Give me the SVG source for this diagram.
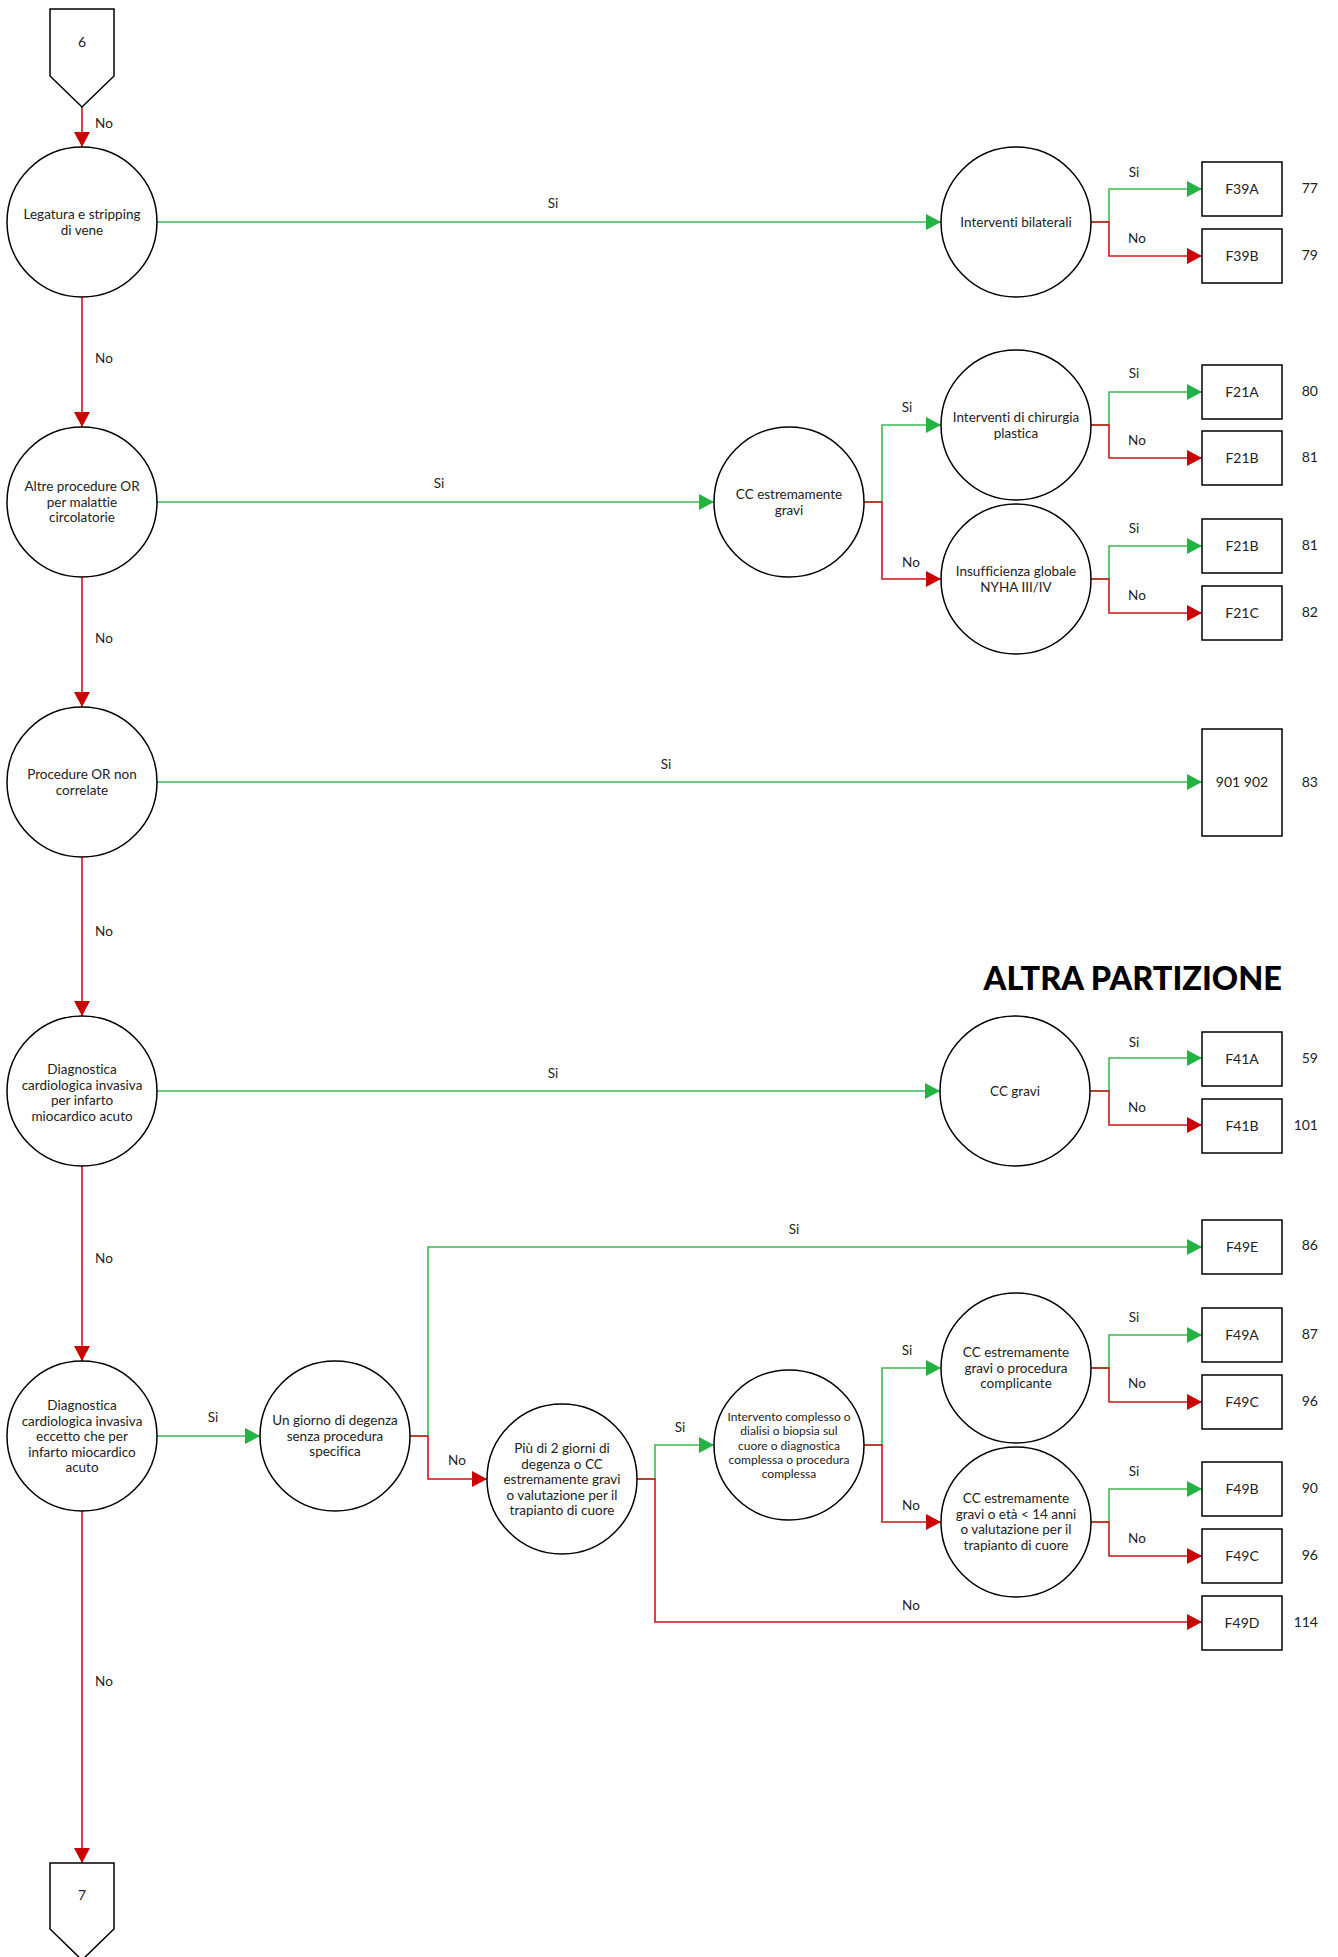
<svg xmlns="http://www.w3.org/2000/svg" width="1338" height="1957" viewBox="0 0 1338 1957">
<style>
text{font-variant-ligatures:none}
.n{fill:#fff;stroke:#000;stroke-width:1.5}
.t{font-family:Lato,"Liberation Sans",sans-serif;font-size:13.5px;fill:#222;text-anchor:middle}
.s{font-size:12px}
.b{font-family:Lato,"Liberation Sans",sans-serif;font-size:14px;fill:#222;text-anchor:middle}
.num{font-family:Lato,"Liberation Sans",sans-serif;font-size:14px;fill:#222;text-anchor:end}
.l{font-family:Lato,"Liberation Sans",sans-serif;font-size:13.5px;fill:#222;text-anchor:middle}
.g{fill:none;stroke:#3dbb4f;stroke-width:1.6;marker-end:url(#ag)}
.r{fill:none;stroke:#d01515;stroke-width:1.6;marker-end:url(#ar)}
.title{font-family:Lato,"Liberation Sans",sans-serif;font-size:32.5px;font-weight:900;fill:#000;text-anchor:end}
</style>
<defs>
<marker id="ag" markerUnits="userSpaceOnUse" markerWidth="16" markerHeight="18" refX="15" refY="8" orient="auto"><path d="M0,0 L15,8 L0,16 z" fill="#22b443"/></marker>
<marker id="ar" markerUnits="userSpaceOnUse" markerWidth="16" markerHeight="18" refX="15" refY="8" orient="auto"><path d="M0,0 L15,8 L0,16 z" fill="#cc0000"/></marker>
</defs>
<rect width="1338" height="1957" fill="#fff"/>

<g id="connectors">
<path class="r" d="M82,107 V147"/>
<path class="r" d="M82,297 V427"/>
<path class="r" d="M82,577 V707"/>
<path class="r" d="M82,857 V1016"/>
<path class="r" d="M82,1166 V1361"/>
<path class="r" d="M82,1511 V1863"/>
<path class="g" d="M157,222 H941"/>
<path class="g" d="M157,502 H714"/>
<path class="g" d="M157,782 H1202"/>
<path class="g" d="M157,1091 H940"/>
<path class="g" d="M157,1436 H260"/>
<path class="g" d="M1091,222 H1109 V189 H1202"/>
<path class="r" d="M1091,222 H1109 V256 H1202"/>
<path class="g" d="M864,502 H882 V425 H941"/>
<path class="r" d="M864,502 H882 V579 H941"/>
<path class="g" d="M1091,425 H1109 V392 H1202"/>
<path class="r" d="M1091,425 H1109 V458 H1202"/>
<path class="g" d="M1091,579 H1109 V546 H1202"/>
<path class="r" d="M1091,579 H1109 V613 H1202"/>
<path class="g" d="M1090,1091 H1109 V1058 H1202"/>
<path class="r" d="M1090,1091 H1109 V1125 H1202"/>
<path class="g" d="M410,1436 H428 V1247 H1202"/>
<path class="r" d="M410,1436 H428 V1479 H487"/>
<path class="g" d="M637,1479 H655 V1445 H714"/>
<path class="r" d="M637,1479 H655 V1622 H1202"/>
<path class="g" d="M864,1445 H882 V1368 H941"/>
<path class="r" d="M864,1445 H882 V1522 H941"/>
<path class="g" d="M1091,1368 H1109 V1335 H1202"/>
<path class="r" d="M1091,1368 H1109 V1402 H1202"/>
<path class="g" d="M1091,1522 H1109 V1489 H1202"/>
<path class="r" d="M1091,1522 H1109 V1556 H1202"/>
</g>

<g id="labels">
<text class="l" x="104" y="128">No</text>
<text class="l" x="104" y="363">No</text>
<text class="l" x="104" y="643">No</text>
<text class="l" x="104" y="936">No</text>
<text class="l" x="104" y="1263">No</text>
<text class="l" x="104" y="1686">No</text>
<text class="l" x="553" y="208">Si</text>
<text class="l" x="439" y="488">Si</text>
<text class="l" x="666" y="769">Si</text>
<text class="l" x="553" y="1078">Si</text>
<text class="l" x="213" y="1422">Si</text>
<text class="l" x="794" y="1234">Si</text>
<text class="l" x="457" y="1465">No</text>
<text class="l" x="680" y="1432">Si</text>
<text class="l" x="911" y="1610">No</text>
<text class="l" x="1134" y="177">Si</text>
<text class="l" x="1137" y="243">No</text>
<text class="l" x="907" y="412">Si</text>
<text class="l" x="911" y="567">No</text>
<text class="l" x="1134" y="378">Si</text>
<text class="l" x="1137" y="445">No</text>
<text class="l" x="1134" y="533">Si</text>
<text class="l" x="1137" y="600">No</text>
<text class="l" x="1134" y="1047">Si</text>
<text class="l" x="1137" y="1112">No</text>
<text class="l" x="907" y="1355">Si</text>
<text class="l" x="911" y="1510">No</text>
<text class="l" x="1134" y="1322">Si</text>
<text class="l" x="1137" y="1388">No</text>
<text class="l" x="1134" y="1476">Si</text>
<text class="l" x="1137" y="1543">No</text>
</g>

<g id="p6"><path class="n" d="M50,9 H114 V76 L82,107 L50,76 Z"/><text class="b" x="82" y="47">6</text></g>
<g id="p7"><path class="n" d="M50,1863 H114 V1929 L82,1960 L50,1929 Z"/><text class="b" x="82" y="1900">7</text></g>

<g id="c1"><circle class="n" cx="82" cy="222" r="75"/><text class="t" x="82" y="219">Legatura e stripping</text><text class="t" x="82" y="235">di vene</text></g>
<g id="c2"><circle class="n" cx="82" cy="502" r="75"/><text class="t" x="82" y="491">Altre procedure OR</text><text class="t" x="82" y="507">per malattie</text><text class="t" x="82" y="522">circolatorie</text></g>
<g id="c3"><circle class="n" cx="82" cy="782" r="75"/><text class="t" x="82" y="779">Procedure OR non</text><text class="t" x="82" y="795">correlate</text></g>
<g id="c4"><circle class="n" cx="82" cy="1091" r="75"/><text class="t" x="82" y="1074">Diagnostica</text><text class="t" x="82" y="1090">cardiologica invasiva</text><text class="t" x="82" y="1105">per infarto</text><text class="t" x="82" y="1121">miocardico acuto</text></g>
<g id="c5"><circle class="n" cx="82" cy="1436" r="75"/><text class="t" x="82" y="1410">Diagnostica</text><text class="t" x="82" y="1426">cardiologica invasiva</text><text class="t" x="82" y="1441">eccetto che per</text><text class="t" x="82" y="1457">infarto miocardico</text><text class="t" x="82" y="1472">acuto</text></g>

<g id="d1"><circle class="n" cx="1016" cy="222" r="75"/><text class="t" x="1016" y="227">Interventi bilaterali</text></g>
<g id="d2"><circle class="n" cx="789" cy="502" r="75"/><text class="t" x="789" y="499">CC estremamente</text><text class="t" x="789" y="515">gravi</text></g>
<g id="d3"><circle class="n" cx="1016" cy="425" r="75"/><text class="t" x="1016" y="422">Interventi di chirurgia</text><text class="t" x="1016" y="438">plastica</text></g>
<g id="d4"><circle class="n" cx="1016" cy="579" r="75"/><text class="t" x="1016" y="576">Insufficienza globale</text><text class="t" x="1016" y="592">NYHA III/IV</text></g>
<g id="d5"><circle class="n" cx="1015" cy="1091" r="75"/><text class="t" x="1015" y="1096">CC gravi</text></g>
<g id="d6"><circle class="n" cx="335" cy="1436" r="75"/><text class="t" x="335" y="1425">Un giorno di degenza</text><text class="t" x="335" y="1441">senza procedura</text><text class="t" x="335" y="1456">specifica</text></g>
<g id="d7"><circle class="n" cx="562" cy="1479" r="75"/><text class="t" x="562" y="1453">Più di 2 giorni di</text><text class="t" x="562" y="1469">degenza o CC</text><text class="t" x="562" y="1484">estremamente gravi</text><text class="t" x="562" y="1500">o valutazione per il</text><text class="t" x="562" y="1515">trapianto di cuore</text></g>
<g id="d8"><circle class="n" cx="789" cy="1445" r="75"/><text class="t s" x="789" y="1421">Intervento complesso o</text><text class="t s" x="789" y="1435">dialisi o biopsia sul</text><text class="t s" x="789" y="1450">cuore o diagnostica</text><text class="t s" x="789" y="1464">complessa o procedura</text><text class="t s" x="789" y="1478">complessa</text></g>
<g id="d9"><circle class="n" cx="1016" cy="1368" r="75"/><text class="t" x="1016" y="1357">CC estremamente</text><text class="t" x="1016" y="1373">gravi o procedura</text><text class="t" x="1016" y="1388">complicante</text></g>
<g id="d10"><circle class="n" cx="1016" cy="1522" r="75"/><text class="t" x="1016" y="1503">CC estremamente</text><text class="t" x="1016" y="1519">gravi o età &lt; 14 anni</text><text class="t" x="1016" y="1534">o valutazione per il</text><text class="t" x="1016" y="1550">trapianto di cuore</text></g>

<g id="F39A"><rect class="n" x="1202" y="162" width="80" height="54"/><text class="b" x="1242" y="194">F39A</text><text class="num" x="1318" y="193">77</text></g>
<g id="F39B"><rect class="n" x="1202" y="229" width="80" height="54"/><text class="b" x="1242" y="261">F39B</text><text class="num" x="1318" y="260">79</text></g>
<g id="F21A"><rect class="n" x="1202" y="365" width="80" height="54"/><text class="b" x="1242" y="397">F21A</text><text class="num" x="1318" y="396">80</text></g>
<g id="F21B1"><rect class="n" x="1202" y="431" width="80" height="54"/><text class="b" x="1242" y="463">F21B</text><text class="num" x="1318" y="462">81</text></g>
<g id="F21B2"><rect class="n" x="1202" y="519" width="80" height="54"/><text class="b" x="1242" y="551">F21B</text><text class="num" x="1318" y="550">81</text></g>
<g id="F21C"><rect class="n" x="1202" y="586" width="80" height="54"/><text class="b" x="1242" y="618">F21C</text><text class="num" x="1318" y="617">82</text></g>
<g id="B901"><rect class="n" x="1202" y="729" width="80" height="107"/><text class="b" x="1242" y="787">901 902</text><text class="num" x="1318" y="787">83</text></g>
<g id="F41A"><rect class="n" x="1202" y="1032" width="80" height="54"/><text class="b" x="1242" y="1064">F41A</text><text class="num" x="1318" y="1063">59</text></g>
<g id="F41B"><rect class="n" x="1202" y="1099" width="80" height="54"/><text class="b" x="1242" y="1131">F41B</text><text class="num" x="1318" y="1130">101</text></g>
<g id="F49E"><rect class="n" x="1202" y="1220" width="80" height="54"/><text class="b" x="1242" y="1252">F49E</text><text class="num" x="1318" y="1250">86</text></g>
<g id="F49A"><rect class="n" x="1202" y="1308" width="80" height="54"/><text class="b" x="1242" y="1340">F49A</text><text class="num" x="1318" y="1339">87</text></g>
<g id="F49C1"><rect class="n" x="1202" y="1375" width="80" height="54"/><text class="b" x="1242" y="1407">F49C</text><text class="num" x="1318" y="1406">96</text></g>
<g id="F49B"><rect class="n" x="1202" y="1462" width="80" height="54"/><text class="b" x="1242" y="1494">F49B</text><text class="num" x="1318" y="1493">90</text></g>
<g id="F49C2"><rect class="n" x="1202" y="1529" width="80" height="54"/><text class="b" x="1242" y="1561">F49C</text><text class="num" x="1318" y="1560">96</text></g>
<g id="F49D"><rect class="n" x="1202" y="1596" width="80" height="54"/><text class="b" x="1242" y="1628">F49D</text><text class="num" x="1318" y="1627">114</text></g>

<text class="title" x="1282" y="990">ALTRA PARTIZIONE</text>
</svg>
